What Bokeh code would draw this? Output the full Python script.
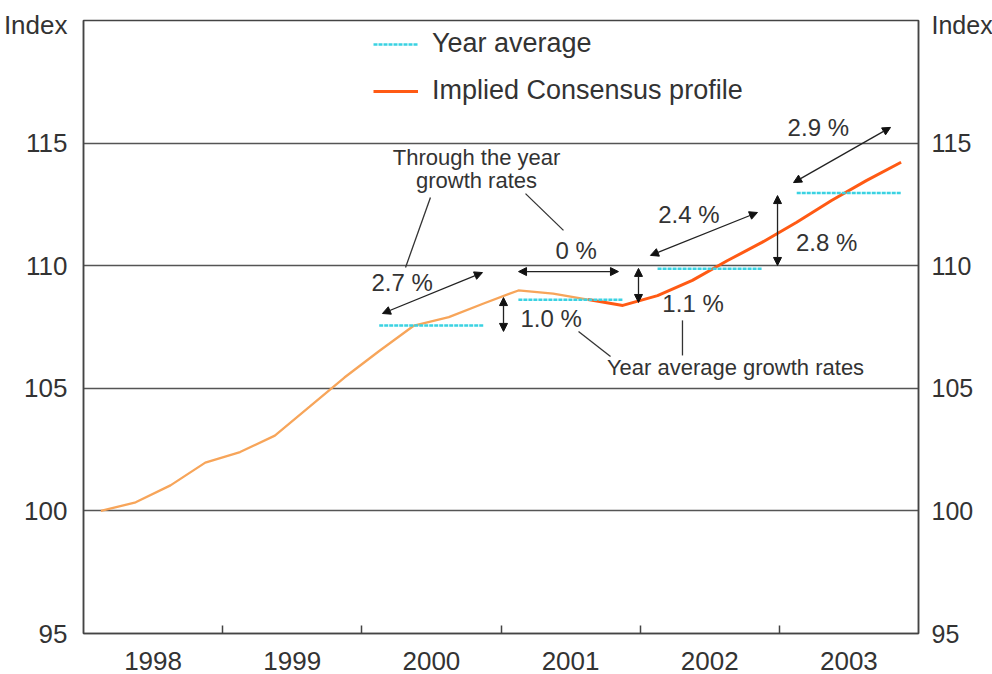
from bokeh.plotting import figure
from bokeh.models import (Range1d, LinearAxis, FixedTicker, Legend, LegendItem,
                          Arrow, NormalHead, Label)
from bokeh.embed import file_html
from bokeh.resources import INLINE

# ---------------- data ----------------
years = [1998, 1999, 2000, 2001, 2002, 2003]
quarters = [1, 2, 3, 4]
index_values = [100.0, 100.35, 101.04, 101.97,
                102.40, 103.07, 104.25, 105.44,
                106.52, 107.56, 107.90, 108.46,
                108.99, 108.86, 108.62, 108.38,
                108.78, 109.40, 110.20, 110.95,
                111.77, 112.66, 113.47, 114.22]
history_end = 15          # first 15 quarters are history (light line)
avg_years = [2000, 2001, 2002, 2003]
year_average = [107.56, 108.61, 109.88, 112.96]
y_ticks = [95, 100, 105, 110, 115]
year_labels = ["1998", "1999", "2000", "2001", "2002", "2003"]
axis_title = "Index"

# growth-rate annotations: (text, x, y)
growth_labels = [("2.7 %", 2000.29, 109.31), ("0 %", 2001.54, 110.62),
                 ("1.0 %", 2001.36, 107.85), ("1.1 %", 2002.38, 108.46),
                 ("2.4 %", 2002.35, 112.09), ("2.8 %", 2003.34, 110.95),
                 ("2.9 %", 2003.28, 115.64)]
# double-headed arrows: (x0, y0, x1, y1)
growth_arrows = [(2000.148, 108.05, 2000.867, 109.72),
                 (2001.126, 109.76, 2001.844, 109.76),
                 (2001.018, 108.70, 2001.018, 107.32),
                 (2001.988, 109.89, 2001.988, 108.50),
                 (2002.074, 110.42, 2002.843, 112.17),
                 (2002.987, 112.86, 2002.987, 110.01),
                 (2003.102, 113.39, 2003.799, 115.64)]
# leader lines
leaders = [(2000.493, 112.78, 2000.314, 109.93),
           (2001.176, 112.94, 2001.449, 111.44),
           (2001.557, 107.32, 2001.787, 106.30),
           (2002.304, 107.77, 2002.304, 106.34)]

# ---------------- derived ----------------
x_q = [y + (q - 0.5) / 4 for y in years for q in quarters]
q_year = [y for y in years for _ in quarters]
FONT = "Liberation Sans"
TXT = "#333333"
LIGHT = "#F7A55A"
DARK = "#FF5A14"
CYAN = "#3AD2E2"

p = figure(frame_width=835, frame_height=613,
           min_border_left=83, min_border_right=73,
           min_border_top=20, min_border_bottom=41,
           x_range=Range1d(1998, 2004), y_range=Range1d(95, 120),
           output_backend="svg", toolbar_location=None,
           x_axis_location=None, y_axis_location=None)
p.background_fill_color = "white"
p.border_fill_color = "white"
p.outline_line_color = "#444444"
p.outline_line_width = 1.5

# grid
p.xgrid.visible = False
p.ygrid.ticker = FixedTicker(ticks=[100, 105, 110, 115])
p.ygrid.grid_line_color = "#555555"
p.ygrid.grid_line_width = 1.5

# axes ("Index" shown as the label at the top of each axis)
idx_pos = 119.82
for side in ["left", "right"]:
    ax = LinearAxis(ticker=FixedTicker(ticks=y_ticks + [idx_pos]),
                    major_label_overrides={idx_pos: axis_title})
    ax.major_tick_line_color = None
    ax.minor_tick_line_color = None
    ax.axis_line_color = "#444444"
    ax.axis_line_width = 1.5
    ax.major_label_text_font = FONT
    ax.major_label_text_font_size = "26px" if side == "left" else "25px"
    ax.major_label_text_color = TXT
    ax.major_label_standoff = 10 if side == "left" else 7
    p.add_layout(ax, side)

mid_years = [y + 0.5 for y in years]
xax = LinearAxis(ticker=FixedTicker(ticks=mid_years, minor_ticks=years[1:]),
                 major_label_overrides={m: l for m, l in zip(mid_years, year_labels)})
xax.major_tick_line_color = None
xax.minor_tick_in = 8
xax.minor_tick_out = 0
xax.minor_tick_line_color = "#444444"
xax.minor_tick_line_width = 1.5
xax.axis_line_color = "#444444"
xax.axis_line_width = 1.5
xax.major_label_text_font = FONT
xax.major_label_text_font_size = "26px"
xax.major_label_text_color = TXT
xax.major_label_standoff = 12
p.add_layout(xax, "below")

# series
p.line(x_q[:history_end], index_values[:history_end], line_color=LIGHT, line_width=2.3)
dark = p.line(x_q[history_end - 1:], index_values[history_end - 1:],
              line_color=DARK, line_width=3)
avg_r = None
for yr, v in zip(avg_years, year_average):
    xs = [x for x, yy in zip(x_q, q_year) if yy == yr]
    r = p.line([xs[0], xs[-1]], [v, v], line_color=CYAN, line_width=2.5, line_dash="4 1")
    if avg_r is None:
        avg_r = r

# legend
legend = Legend(items=[LegendItem(label="Year average", renderers=[avg_r]),
                       LegendItem(label="Implied Consensus profile", renderers=[dark])],
                location=(290, 527), orientation="vertical",
                background_fill_alpha=0, border_line_alpha=0,
                label_text_font=FONT, label_text_font_size="27px",
                label_text_color=TXT, glyph_width=45, glyph_height=20,
                label_standoff=14, spacing=16, padding=0, margin=0)
p.add_layout(legend, "center")

# arrows
for x0, y0, x1, y1 in growth_arrows:
    p.add_layout(Arrow(x_start=x0, y_start=y0, x_end=x1, y_end=y1,
                       line_color="#222222", line_width=1.3,
                       start=NormalHead(size=8, fill_color="#111111", line_color="#111111"),
                       end=NormalHead(size=8, fill_color="#111111", line_color="#111111")))
for x0, y0, x1, y1 in leaders:
    p.segment(x0=[x0], y0=[y0], x1=[x1], y1=[y1], line_color="#333333", line_width=1.3)

for t, x, y in growth_labels:
    p.add_layout(Label(x=x, y=y, text=t, text_align="center", text_baseline="middle",
                       text_font=FONT, text_font_size="24px", text_color=TXT))

for t, x, y in [("Through the year", 2000.824, 114.41), ("growth rates", 2000.824, 113.47),
                ("Year average growth rates", 2002.685, 105.85)]:
    p.add_layout(Label(x=x, y=y, text=t, text_align="center", text_baseline="middle",
                       text_font=FONT, text_font_size="22px", text_color=TXT))

open("out.html", "w").write(file_html(p, INLINE))
